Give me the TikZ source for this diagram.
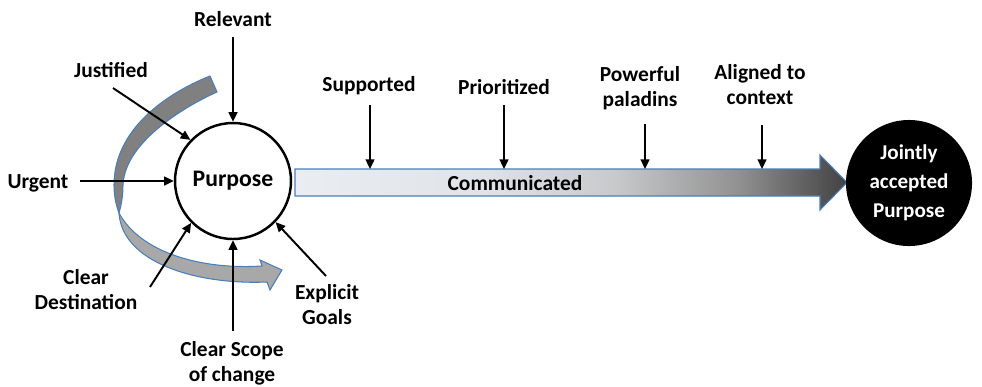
\documentclass[tikz,border=0pt]{standalone}
\usepackage{fontspec}
\setmainfont{Carlito}
\usepackage{tikz}
\usetikzlibrary{arrows.meta}

\definecolor{bandedge}{RGB}{74,126,187}
\definecolor{bandtop}{RGB}{128,128,128}
\definecolor{bandlow}{RGB}{168,168,168}
\definecolor{shaftpale}{RGB}{234,238,242}
\definecolor{shaftpale2}{RGB}{224,227,231}
\definecolor{shaftmid}{RGB}{200,201,203}
\definecolor{shaftgray}{RGB}{146,146,146}
\definecolor{shaftdark}{RGB}{66,66,66}

\pgfdeclarehorizontalshading{commshade}{100bp}{%
  color(0bp)=(shaftpale); color(25bp)=(shaftpale); color(42bp)=(shaftpale2);
  color(54bp)=(shaftmid); color(65bp)=(shaftgray); color(75bp)=(shaftdark);
  color(100bp)=(shaftdark)}

\begin{document}
\begin{tikzpicture}[
    x=0.02cm, y=-0.02cm,
    lbl/.style={font=\bfseries\fontsize{12.2}{14.2}\selectfont, align=center, inner sep=0pt},
    arr/.style={-{Triangle[length=5.5pt,width=5pt]}, line width=1.1pt},
    band/.style={draw=bandedge, line width=0.6pt}
]
    \useasboundingbox (0,0) rectangle (982,386);

    % twisted ribbon around the circle
    \path[band, fill=bandlow] (119,213) .. controls (140,252) and (200,270) .. (262,266)
        -- (260,260) -- (282,270) -- (270,290) -- (267,282)
        .. controls (195,285) and (122,262) .. (119,213) -- cycle;
    \path[band, fill=bandtop] (210,76) .. controls (165,94) and (114,130) .. (114,185)
        .. controls (114,196) and (116,205) .. (119,213)
        .. controls (121,206) and (123,197) .. (123,185)
        .. controls (125,140) and (190,104) .. (217,92) -- cycle;

    % big arrow
    \shadedraw[shading=commshade, draw=bandedge, line width=0.6pt]
        (295,169) -- (820,169) -- (820,155) -- (847,182.5) -- (820,210) -- (820,196) -- (295,196) -- cycle;
    \coordinate (shafttop) at (295,169);
    \node[lbl] (comm) at (515,183) {Communicated};

    \node[draw, circle, fill=white, line width=1.4pt, minimum size=2.32cm,
          font=\bfseries\fontsize{13.5}{16}\selectfont] (purpose) at (233,181) {Purpose};
    \node[circle, fill=black, minimum size=2.48cm, text=white, align=center,
          font=\bfseries\fontsize{12}{16.4}\selectfont] (joint) at (909,183) {Jointly\\accepted\\Purpose};

    \node[lbl] (relevant) at (233,19) {Relevant};
    \node[lbl] (justified) at (111,70) {Justified};
    \node[lbl] (urgent) at (38,183) {Urgent};
    \node[lbl] (dest) at (86,290) {Clear\\Destination};
    \node[lbl] (scope) at (232,363) {Clear Scope\\of change};
    \node[lbl] (goals) at (327,305) {Explicit\\Goals};
    \node[lbl] (sup) at (369,86) {Supported};
    \node[lbl] (pri) at (504,87) {Prioritized};
    \node[lbl] (pow) at (640,88) {Powerful\\paladins};
    \node[lbl] (ali) at (760,85) {Aligned to\\context};

    \coordinate (relevanttail) at (233,37);
    \coordinate (justifiedtail) at (113,88);
    \coordinate (urgenttail) at (80,181);
    \coordinate (desttail) at (150,287);
    \coordinate (scopetail) at (233,331);
    \coordinate (goalstail) at (326,276);
    \coordinate (suptail) at (370,105);
    \coordinate (pritail) at (504,105);
    \coordinate (powtail) at (645,124);
    \coordinate (alitail) at (762,125);

    \draw[arr] (relevanttail) -- (purpose.north);
    \draw[arr] (justifiedtail) -- (purpose.136);
    \draw[arr] (urgenttail) -- (purpose.west);
    \draw[arr] (desttail) -- (purpose.225);
    \draw[arr] (scopetail) -- (purpose.south);
    \draw[arr] (goalstail) -- (purpose.-44);
    \foreach \t in {sup,pri,pow,ali}
        \draw[arr] (\t tail) -- (\t tail |- shafttop);
\end{tikzpicture}
\end{document}
